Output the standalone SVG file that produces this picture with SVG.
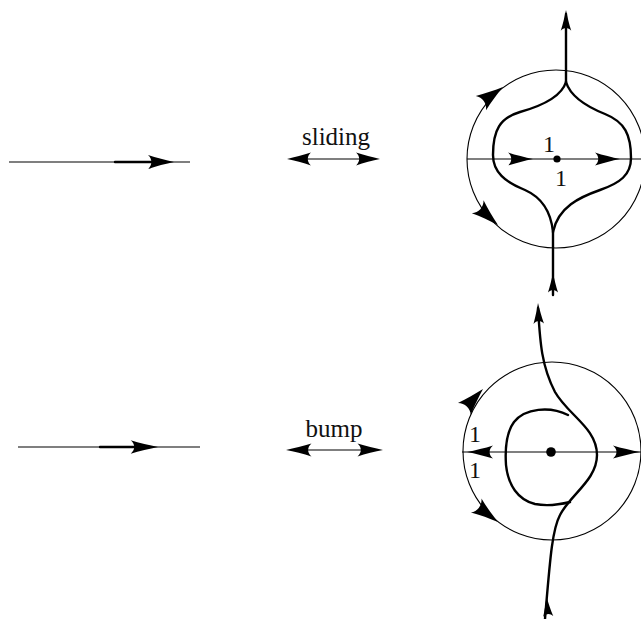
<svg xmlns="http://www.w3.org/2000/svg" xmlns:xlink="http://www.w3.org/1999/xlink" width="641" height="619" viewBox="0 0 641 619">
<style>
.thin{fill:none;stroke:#000;stroke-width:1.1}
.thick{fill:none;stroke:#000;stroke-width:2.4;stroke-linecap:round}
.lbl{font-family:"Liberation Serif","Times New Roman",serif;font-size:25px;fill:#111;text-anchor:middle}
.num{font-family:"Liberation Serif","Times New Roman",serif;font-size:24px;fill:#111;text-anchor:middle}
</style>
<defs>
<path id="ah" d="M0,0 C-8,-1.8 -18,-4.2 -26,-7 C-21.5,-3 -21.5,3 -26,7 C-18,4.2 -8,1.8 0,0 Z" fill="#000"/>
</defs>
<rect width="641" height="619" fill="#fff"/>

<g id="line-top">
<line class="thin" x1="9" y1="162" x2="190" y2="162"/>
<line class="thick" x1="115" y1="162" x2="155" y2="162" stroke-linecap="butt"/>
<use xlink:href="#ah" transform="translate(174,162)"/>
</g>

<g id="sliding">
<line class="thin" x1="300" y1="159" x2="368" y2="159"/>
<use xlink:href="#ah" transform="translate(287,159) rotate(180) scale(0.92)"/>
<use xlink:href="#ah" transform="translate(380,159) scale(0.92)"/>
<text class="lbl" x="336" y="145">sliding</text>
</g>

<g id="disk-top">
<circle class="thin" cx="556" cy="159" r="89"/>
<line class="thin" x1="467" y1="159" x2="641" y2="159"/>
<use xlink:href="#ah" transform="translate(533,159) scale(0.96,0.93)"/>
<use xlink:href="#ah" transform="translate(620,159) scale(0.96,0.93)"/>
<use xlink:href="#ah" transform="translate(503,87) rotate(-36) scale(1.05,1.25)"/>
<use xlink:href="#ah" transform="translate(498,225) rotate(42) scale(1.05,1.25)"/>
<circle cx="557" cy="159" r="3.6" fill="#000"/>
<text class="num" x="549" y="152">1</text>
<text class="num" x="561" y="186">1</text>
<path class="thick" d="M566,82 C570,95 585,106 605,114 C625,122 631,135 631,158 C631,175 620,183 600,190 C580,197 558,207 553,232"/>
<path class="thick" d="M566,82 C562,95 545,105 520,112 C500,118 493,130 493,155 C493,172 505,182 525,190 C543,198 551,212 553,232"/>
<line class="thick" x1="566" y1="14" x2="566" y2="82"/>
<use xlink:href="#ah" transform="translate(566,10) rotate(-90) scale(0.8,0.75)"/>
<line class="thick" x1="553" y1="232" x2="553" y2="295"/>
<use xlink:href="#ah" transform="translate(553,273) rotate(-90) scale(0.75,0.72)"/>
</g>

<g id="line-bottom">
<line class="thin" x1="18" y1="447" x2="200" y2="447"/>
<line class="thick" x1="100" y1="447" x2="140" y2="447" stroke-linecap="butt"/>
<use xlink:href="#ah" transform="translate(158,447) scale(1.05,0.95)"/>
</g>

<g id="bump">
<line class="thin" x1="300" y1="450" x2="370" y2="450"/>
<use xlink:href="#ah" transform="translate(286,450) rotate(180) scale(0.98,0.92)"/>
<use xlink:href="#ah" transform="translate(383,450) scale(0.98,0.92)"/>
<text class="lbl" x="334" y="437">bump</text>
</g>

<g id="disk-bottom">
<circle class="thin" cx="552" cy="451" r="89"/>
<line class="thin" x1="462" y1="452" x2="641" y2="452"/>
<use xlink:href="#ah" transform="translate(467,452) rotate(180) scale(1,0.93)"/>
<use xlink:href="#ah" transform="translate(640,452) scale(1.04,0.93)"/>
<use xlink:href="#ah" transform="translate(483,389) rotate(-47) scale(1.05,1.25)"/>
<use xlink:href="#ah" transform="translate(498,522) rotate(37) scale(1.05,1.25)"/>
<circle cx="551" cy="452" r="4.8" fill="#000"/>
<text class="num" x="475" y="442">1</text>
<text class="num" x="475" y="478">1</text>
<path class="thick" d="M568,415 C550,406 525,408 514,422 C506,433 505,450 506,465 C508,485 518,500 535,504 C550,507 562,504 570,502"/>
<path class="thick" d="M538,308 C540,340 541,365 555,392 C568,415 597,428 597,455 C597,480 570,495 560,515 C552,530 550,560 545,619"/>
<use xlink:href="#ah" transform="translate(538,303) rotate(-92) scale(0.8,0.75)"/>
<use xlink:href="#ah" transform="translate(546.5,597) rotate(-95) scale(0.75,0.72)"/>
</g>
</svg>
